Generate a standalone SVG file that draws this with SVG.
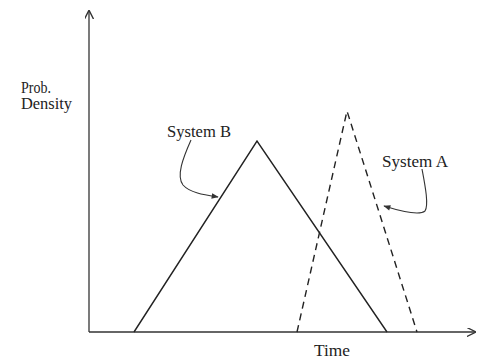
<svg xmlns="http://www.w3.org/2000/svg" width="477" height="360" viewBox="0 0 477 360">
<style>
  text { font-family: "Liberation Serif", "Times New Roman", serif; fill: #222; font-size: 16px; }
  .ax { stroke: #333; stroke-width: 1.3; fill: none; }
  .curve { stroke: #222; stroke-width: 1.4; fill: none; }
  .dash { stroke-dasharray: 7 5; }
  .lead { stroke: #333; stroke-width: 1.1; fill: none; }
</style>
<defs>
  <marker id="axarrow" viewBox="0 0 10 10" refX="9" refY="5" markerWidth="9" markerHeight="9" markerUnits="userSpaceOnUse" orient="auto">
    <path d="M0,0 L10,5 L0,10" fill="none" stroke="#333" stroke-width="1.5"/>
  </marker>
  <marker id="lead" viewBox="0 0 10 10" refX="9" refY="5" markerWidth="9" markerHeight="7" markerUnits="userSpaceOnUse" orient="auto">
    <path d="M0,1 L10,5 L0,9 Z" fill="#333"/>
  </marker>
</defs>
<rect width="477" height="360" fill="#fff"/>
<g id="axes">
  <line class="ax" x1="89" y1="332" x2="89" y2="11" marker-end="url(#axarrow)"/>
  <line class="ax" x1="89" y1="332" x2="475" y2="332" marker-end="url(#axarrow)"/>
  <text x="21" y="93" textLength="30" lengthAdjust="spacingAndGlyphs">Prob.</text>
  <text x="21" y="109" textLength="51" lengthAdjust="spacingAndGlyphs">Density</text>
  <text x="314" y="356" textLength="36" lengthAdjust="spacingAndGlyphs">Time</text>
</g>
<g id="systemB">
  <polyline class="curve" points="134,332 257,141 387,332"/>
  <text x="167" y="137" textLength="64" lengthAdjust="spacingAndGlyphs">System B</text>
</g>
<g id="systemA">
  <polyline class="curve dash" points="297,332 347,111 417,332"/>
  <text x="382" y="167" textLength="66" lengthAdjust="spacingAndGlyphs">System A</text>
</g>
<g id="connectors">
  <path class="lead" d="M191,140 C183,158 176,176 183,185 C190,193 205,195 218,197" marker-end="url(#lead)"/>
  <path class="lead" d="M422,169 C425,185 429,205 425,211 C419,216 400,211 384,206" marker-end="url(#lead)"/>
</g>
</svg>
